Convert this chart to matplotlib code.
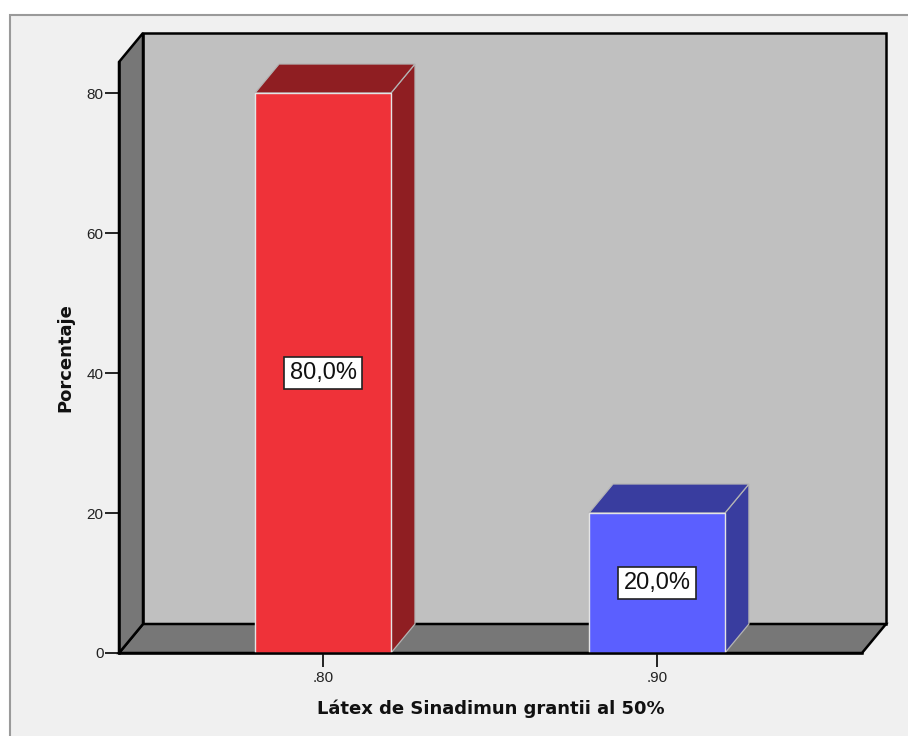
import matplotlib
matplotlib.use("Agg")
import matplotlib.pyplot as plt
from matplotlib.patches import Polygon, Rectangle

# Data
categories = [".80", ".90"]
percentages = [80.0, 20.0]
value_labels = ["80,0%", "20,0%"]
y_ticks = [0, 20, 40, 60, 80]
x_title = "Látex de Sinadimun grantii al 50%"
y_title = "Porcentaje"

# Styling
front_colors = ["#ef3239", "#5b5fff"]
side_colors = ["#8f1e22", "#393d9f"]
WALL_BACK = "#c0c0c0"
WALL_SIDE = "#777777"
PANEL = "#f0f0f0"
BAR_WIDTH = 0.407
DEPTH_PX = (24, 29)          # 3-D depth offset in pixels (right, up)
TICK_FONT = "Liberation Sans"
TITLE_FONT = "DejaVu Sans"

fig = plt.figure(figsize=(9.08, 7.36), dpi=100, facecolor="white")

# Light panel behind the chart
fig.patches.append(Rectangle((9.5 / 908, -0.01), 1.0, (736 - 15) / 736 + 0.01,
                             transform=fig.transFigure, facecolor=PANEL,
                             edgecolor="#9a9a9a", linewidth=1.5, zorder=-10))

ax = fig.add_axes([119 / 908, (736 - 653) / 736, 743 / 908, 591 / 736])
ax.set_zorder(1)
ax.set_facecolor("none")
xs = list(range(len(categories)))
xmin, xmax = -0.611, 1.614
ymax = 84.43
ax.set_xlim(xmin, xmax)
ax.set_ylim(0, ymax)

# Depth offset expressed in data units
bbox = ax.get_window_extent()
dx = DEPTH_PX[0] * (xmax - xmin) / bbox.width
dy = DEPTH_PX[1] * ymax / bbox.height

wall_kw = dict(edgecolor="black", linewidth=1.8, clip_on=False, joinstyle="miter")
# Back wall
ax.add_patch(Rectangle((xmin + dx, dy), xmax - xmin, ymax, facecolor=WALL_BACK,
                       zorder=1, **wall_kw))
# Left wall
ax.add_patch(Polygon([(xmin, 0), (xmin, ymax), (xmin + dx, ymax + dy), (xmin + dx, dy)],
                     closed=True, facecolor=WALL_SIDE, zorder=1.2, **wall_kw))
# Floor
ax.add_patch(Polygon([(xmin, 0), (xmax, 0), (xmax + dx, dy), (xmin + dx, dy)],
                     closed=True, facecolor=WALL_SIDE, zorder=1.1, **wall_kw))

# Bars: side and top faces first, then front faces
for x, v, sc in zip(xs, percentages, side_colors):
    left, right = x - BAR_WIDTH / 2, x + BAR_WIDTH / 2
    side = [(right, 0), (right, v), (right + dx, v + dy), (right + dx, dy)]
    top = [(left, v), (right, v), (right + dx, v + dy), (left + dx, v + dy)]
    for face in (side, top):
        ax.add_patch(Polygon(face, closed=True, facecolor=sc, edgecolor="#b4b4b4",
                             linewidth=0.9, zorder=2, clip_on=False))

ax.bar(xs, percentages, width=BAR_WIDTH, color=front_colors, edgecolor="#e4e4e4",
       linewidth=1.0, zorder=3, clip_on=False)

for x, v, lab in zip(xs, percentages, value_labels):
    ax.text(x, v / 2, lab, ha="center", va="center", fontsize=17, family=TICK_FONT,
            color="#111111", zorder=5,
            bbox=dict(boxstyle="square,pad=0.22", facecolor="white",
                      edgecolor="#222222", linewidth=1.2))

# Axes styling
for name, sp in ax.spines.items():
    if name in ("left", "bottom"):
        sp.set_color("black")
        sp.set_linewidth(1.8)
        sp.set_zorder(4)
    else:
        sp.set_visible(False)

ax.set_yticks(y_ticks)
ax.set_yticklabels([str(t) for t in y_ticks], family=TICK_FONT, fontsize=11,
                   color="#222222")
ax.set_xticks(xs)
ax.set_xticklabels(categories, family=TICK_FONT, fontsize=11, color="#222222")
ax.tick_params(axis="y", length=10, width=1.2, pad=1, color="black")
ax.tick_params(axis="x", length=10, width=1.2, pad=3, color="black")

ax.set_xlabel(x_title, family=TITLE_FONT, fontweight="bold", fontsize=13, color="#111111")
ax.set_ylabel(y_title, family=TITLE_FONT, fontweight="bold", fontsize=13, color="#111111")
ax.xaxis.set_label_coords(0.5, -(709 - 653) / 591)
ax.xaxis.label.set_va("center")
ax.yaxis.set_label_coords((65 - 119) / 743, 0.5)
ax.yaxis.label.set_va("center")

fig.savefig("out.png", dpi=100, facecolor=fig.get_facecolor())
